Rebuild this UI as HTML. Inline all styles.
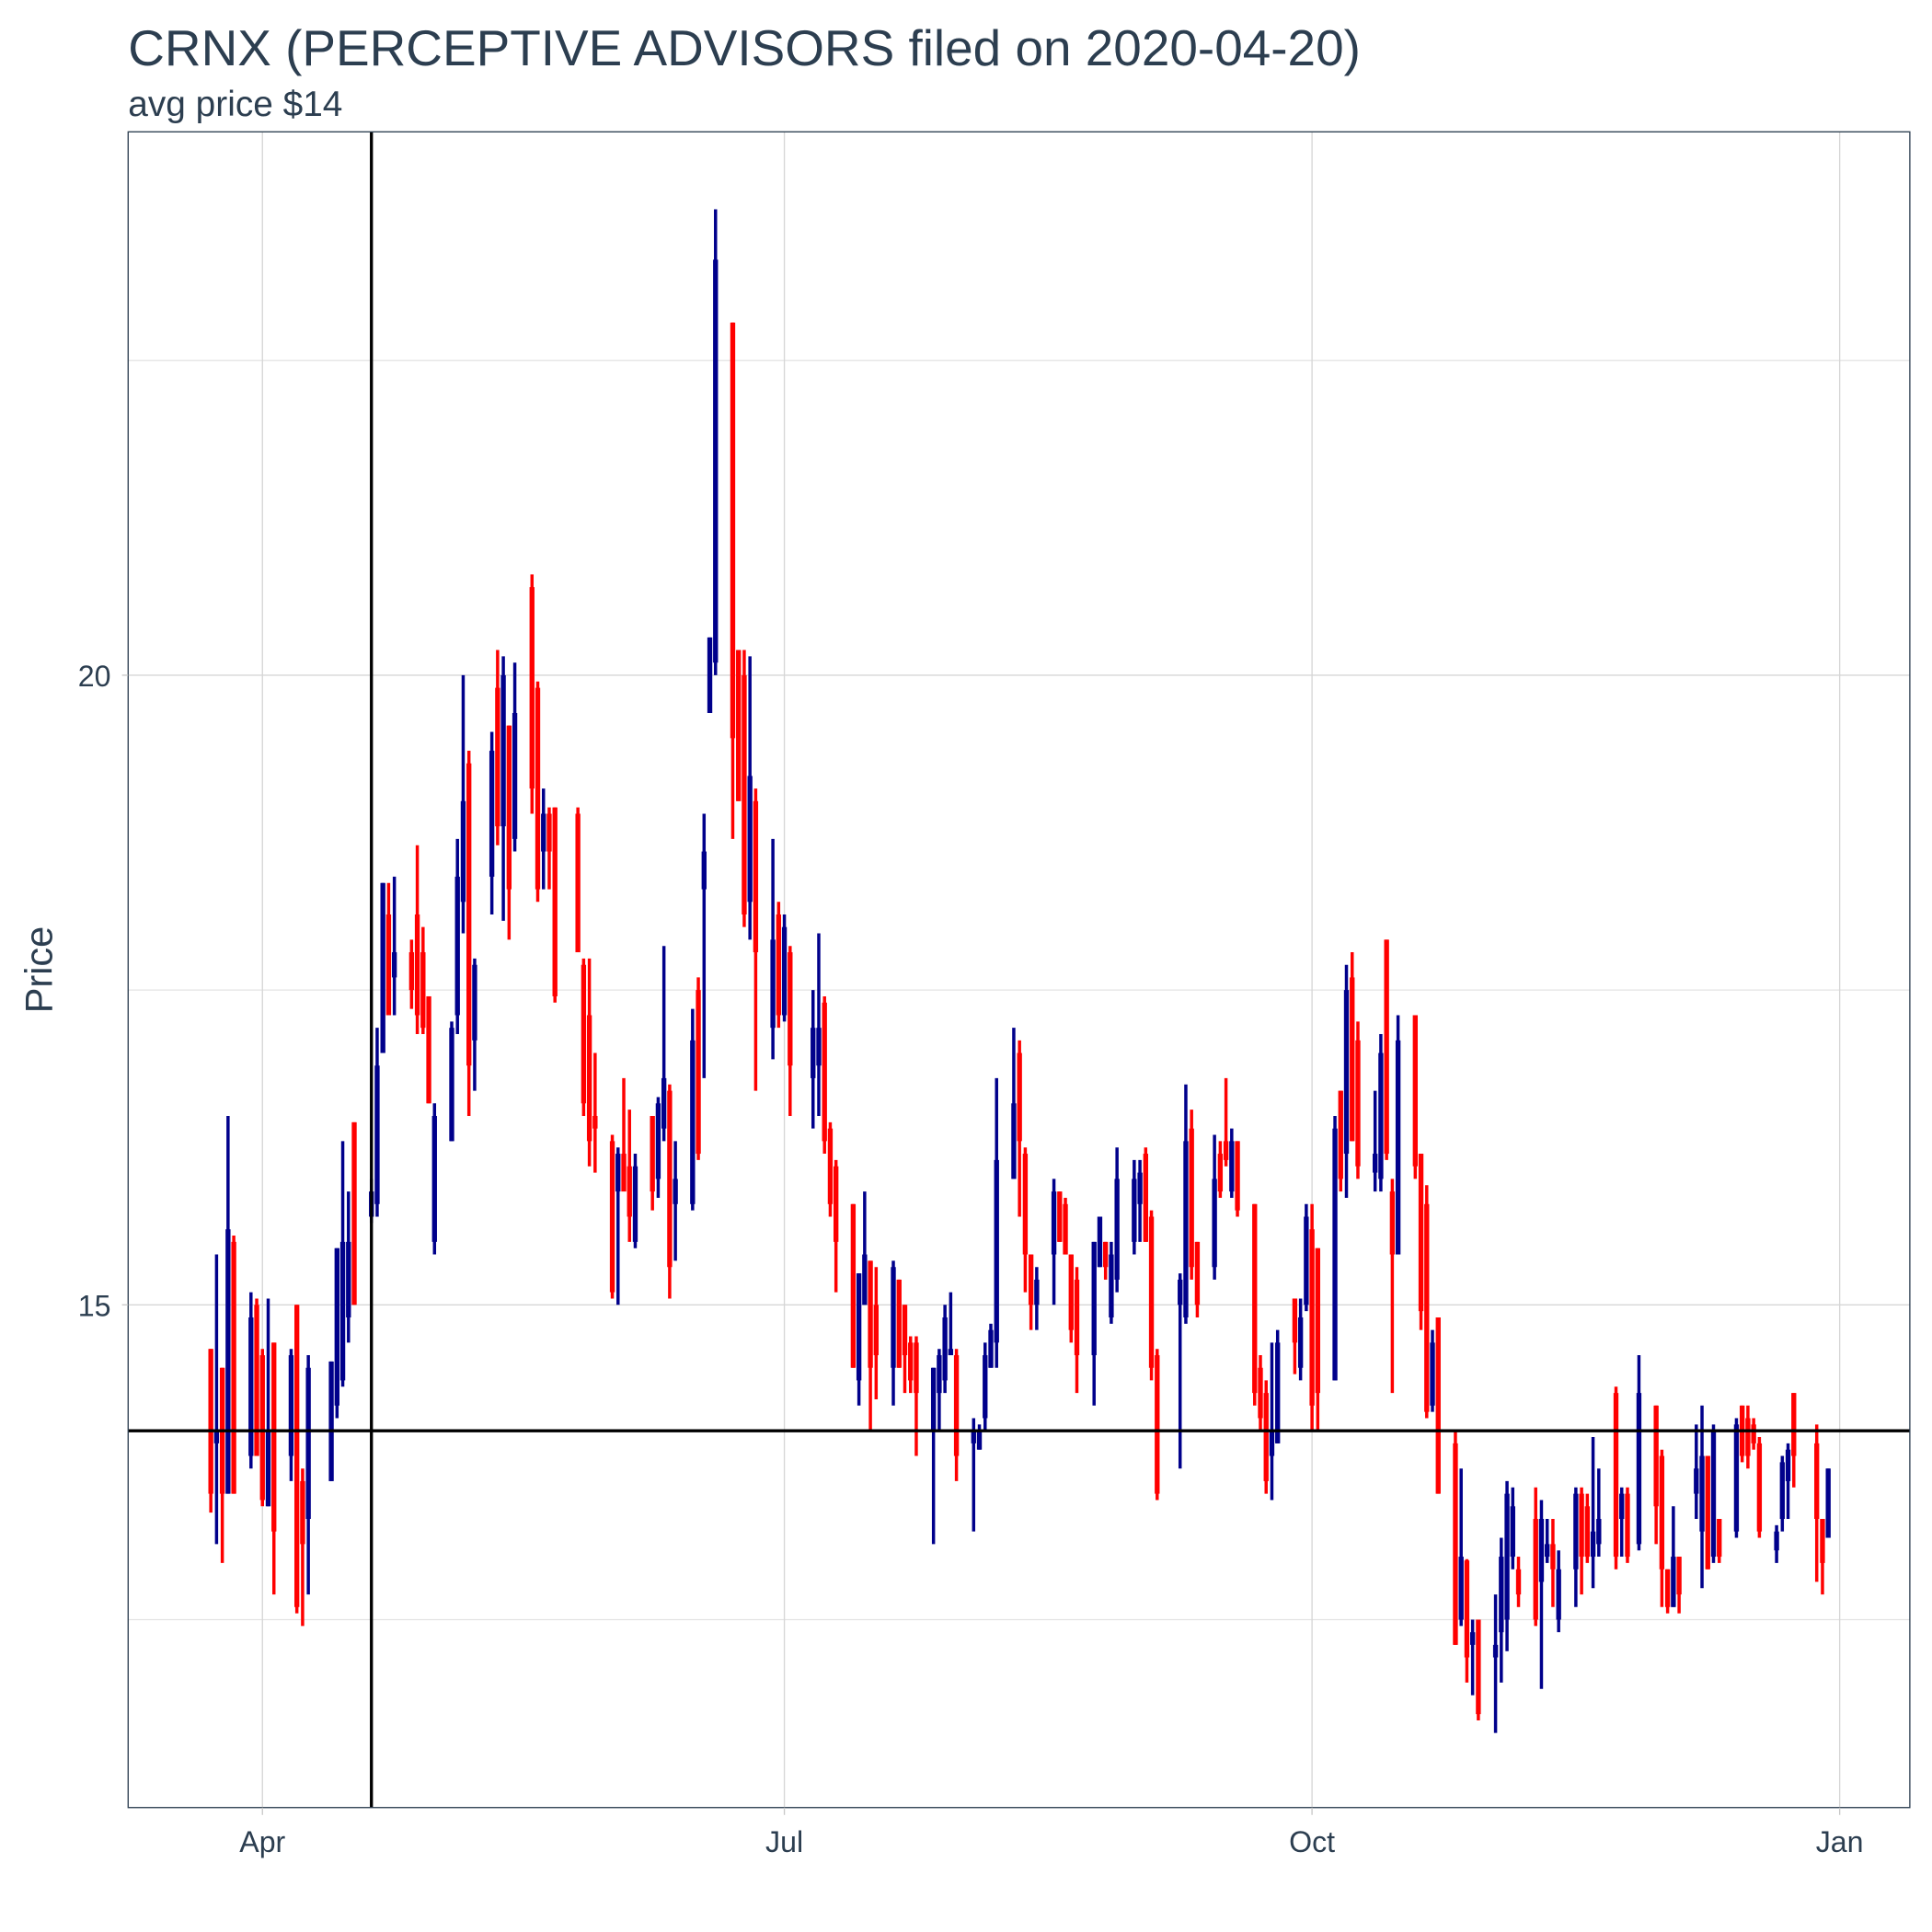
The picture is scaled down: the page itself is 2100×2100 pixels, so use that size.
<!DOCTYPE html>
<html><head><meta charset="utf-8"><style>
html,body{margin:0;padding:0;background:#fff;}
svg{display:block;}
text{font-family:"Liberation Sans",sans-serif;}
</style></head><body>
<svg id="chart" width="2100" height="2100" viewBox="0 0 1568 1568" xmlns="http://www.w3.org/2000/svg">
<rect x="0" y="0" width="1568" height="1568" fill="#fff"/>
<text x="104" y="53" font-size="41" fill="#2c3e50">CRNX (PERCEPTIVE ADVISORS filed on 2020-04-20)</text>
<text x="104" y="94" font-size="29" fill="#2c3e50">avg price $14</text>
<text transform="translate(42,787) rotate(-90)" text-anchor="middle" font-size="31" fill="#2c3e50">Price</text>
<g id="grid"></g>
<g id="marks"></g>
<g id="refs"></g>
<rect x="104" y="107" width="1446" height="1360" fill="none" stroke="#2c3e50" stroke-width="1"/>
<g id="axes"></g>
</svg>
<script>
// days since 2020-04-01
const days = [-9,-8,-7,-6,-5,-2,-1,0,1,2,5,6,7,8,12,13,14,15,16,19,20,21,22,23,26,27,28,29,30,33,34,35,36,37,40,41,42,43,44,47,48,49,50,51,55,56,57,58,61,62,63,64,65,68,69,70,71,72,75,76,77,78,79,82,83,84,85,86,89,90,91,92,96,97,98,99,100,103,104,105,106,107,110,111,112,113,114,117,118,119,120,121,124,125,126,127,128,131,132,133,134,135,138,139,140,141,142,145,146,147,148,149,152,153,154,155,156,160,161,162,163,166,167,168,169,170,173,174,175,176,177,180,181,182,183,184,187,188,189,190,191,194,195,196,197,198,201,202,203,204,205,208,209,210,211,212,215,216,217,218,219,222,223,224,225,226,229,230,231,232,233,236,237,238,240,243,244,245,246,247,250,251,252,253,254,257,258,259,260,261,264,265,266,267,271,272,273];
const openP = [14.65,13.9,14.5,13.5,15.5,13.8,15.0,14.6,13.4,14.7,13.8,15.0,13.6,13.3,13.6,14.2,14.4,14.9,16.45,15.7,15.8,17.0,18.1,17.6,17.8,18.1,17.8,17.45,15.5,16.3,17.3,18.2,19.3,17.1,18.4,19.9,18.8,19.6,18.7,20.7,19.9,18.6,18.9,18.95,18.9,17.7,17.3,16.5,16.3,15.9,16.2,16.1,15.5,16.5,16.0,16.4,16.7,15.8,15.8,17.5,18.3,19.7,20.1,22.8,20.2,20.0,18.2,19.0,17.2,18.1,17.3,17.8,16.8,16.9,17.4,16.4,16.1,15.8,14.4,15.0,15.35,15.0,14.5,15.2,15.0,14.7,14.7,14.0,14.3,14.4,14.6,14.6,13.9,13.85,14.1,14.5,14.7,16.0,17.0,16.2,15.4,15.0,15.4,15.9,15.8,15.4,15.2,14.6,15.3,15.5,14.9,15.2,15.5,15.8,16.2,15.7,14.6,15.0,14.9,16.4,15.5,15.3,16.2,16.3,15.9,16.3,15.8,14.5,14.3,13.8,13.9,15.05,14.5,15.0,15.6,15.45,14.4,16.7,16.2,17.6,17.1,16.05,16.0,17.9,15.9,15.4,17.3,16.2,15.8,14.2,14.9,13.9,12.5,12.97,12.3,12.5,12.2,12.4,12.5,13.0,12.9,13.3,12.8,13.0,13.1,12.5,12.9,13.5,13.4,13.0,13.1,14.3,13.3,13.5,13.1,14.2,13.8,12.9,12.6,13.0,13.5,13.2,13.8,13.0,13.3,13.2,14.2,14.1,14.05,13.9,13.05,13.3,13.6,14.3,13.9,13.3,13.15];
const highP = [14.65,15.4,14.5,16.5,15.55,15.1,15.05,14.65,15.05,14.7,14.65,15.0,13.7,14.6,14.55,15.45,16.3,15.9,16.45,16.0,17.2,18.35,18.35,18.4,17.9,18.65,18.0,17.45,16.6,17.25,18.7,20.0,19.4,17.75,19.55,20.2,20.15,19.6,20.1,20.8,19.95,19.1,18.95,18.95,18.95,17.75,17.75,17.0,16.35,16.25,16.8,16.55,16.2,16.5,16.65,17.85,16.75,16.3,17.35,17.6,18.9,20.3,23.7,22.8,20.2,20.2,20.15,19.1,18.7,18.2,18.1,17.85,17.5,17.95,17.45,16.45,16.15,15.8,15.25,15.9,15.35,15.3,15.35,15.2,15.0,14.75,14.75,14.5,14.65,15.0,15.1,14.65,14.1,14.05,14.7,14.85,16.8,17.2,17.1,16.25,15.4,15.3,16.0,15.9,15.85,15.4,15.3,15.5,15.7,15.5,15.5,16.25,16.15,16.15,16.25,15.75,14.65,15.25,16.75,16.55,15.5,16.35,16.3,16.8,16.4,16.3,15.8,14.6,14.4,14.7,14.8,15.05,15.05,15.8,15.8,15.45,16.5,16.7,17.7,17.8,17.25,16.7,17.15,17.9,16.0,17.3,17.3,16.2,15.95,14.8,14.9,14.0,13.7,12.98,12.5,12.5,12.7,13.15,13.6,13.55,13.0,13.55,13.45,13.3,13.3,13.05,13.55,13.55,13.5,13.95,13.7,14.35,13.55,13.55,14.6,14.2,13.85,12.9,13.4,13.0,14.05,14.2,13.8,14.05,13.3,14.1,14.2,14.2,14.1,13.95,13.25,13.8,13.9,14.3,14.05,13.3,13.7];
const lowP = [13.35,13.1,12.95,13.5,13.5,13.7,13.8,13.4,13.4,12.7,13.6,12.55,12.45,12.7,13.6,14.1,14.35,14.7,15.0,15.65,15.7,17.0,17.3,17.3,17.35,17.15,17.15,16.6,15.4,16.3,17.15,17.95,16.5,16.7,18.1,18.65,18.05,17.9,18.6,18.9,18.2,18.3,18.3,17.4,17.8,16.5,16.1,16.05,15.05,15.0,15.95,15.5,15.45,15.75,15.85,16.3,15.05,15.35,15.75,16.15,16.8,19.7,20.0,18.7,19.0,18.0,17.9,16.7,16.95,17.2,17.25,16.5,16.4,16.5,16.2,15.7,15.1,14.5,14.2,15.0,14.0,14.25,14.2,14.5,14.3,14.3,13.8,13.1,14.0,14.3,14.6,13.6,13.2,13.85,14.0,14.5,14.5,16.0,15.7,15.1,14.8,14.8,15.0,15.5,15.4,14.7,14.3,14.2,15.3,15.2,14.85,15.1,15.4,15.5,15.5,14.4,13.45,13.7,14.85,15.2,14.9,15.2,15.85,16.1,15.85,15.7,14.2,14.0,13.5,13.45,13.9,14.45,14.4,14.95,14.0,14.0,14.4,15.9,15.85,16.3,16.0,15.9,15.9,16.15,14.3,15.4,16.0,14.8,14.1,14.15,13.5,12.3,12.45,12.0,11.9,11.7,11.6,12.0,12.25,12.9,12.6,12.45,11.95,12.95,12.6,12.4,12.6,12.7,12.95,12.75,13.0,12.9,13.0,12.95,13.05,13.1,12.6,12.55,12.6,12.55,13.3,12.75,12.9,12.95,12.95,13.15,13.75,13.7,13.85,13.15,12.95,13.2,13.3,13.55,12.8,12.7,13.15];
const closeP = [13.5,14.0,13.5,15.6,13.5,14.9,13.8,13.45,14.0,13.2,14.6,12.6,13.1,14.5,14.55,15.45,15.5,15.5,15.0,15.9,16.9,18.35,17.3,17.8,17.5,17.3,17.2,16.6,16.5,17.2,18.4,19.0,16.9,17.7,19.4,18.8,20.0,18.3,19.7,19.1,18.3,18.9,18.6,17.45,17.8,16.6,16.3,16.4,15.1,16.2,15.9,15.7,16.1,15.9,16.6,16.8,15.3,16.0,17.1,16.2,18.6,20.3,23.3,19.5,19.0,18.1,19.2,17.8,17.9,17.3,18.0,16.9,17.2,17.2,16.3,15.8,15.5,14.5,15.25,15.4,14.5,14.6,15.3,14.5,14.6,14.4,14.3,14.5,14.6,14.9,14.65,13.8,14.0,14.0,14.6,14.8,16.15,16.6,16.3,15.4,15.0,15.2,15.9,15.5,15.4,14.8,14.6,15.5,15.7,15.3,15.4,16.0,16.0,16.05,15.5,14.5,13.5,15.2,16.3,15.3,15.0,16.0,15.9,16.15,16.3,15.75,14.3,14.1,13.6,14.0,14.7,14.7,14.9,15.7,14.2,14.3,16.4,16.0,17.5,16.3,16.1,16.2,17.0,16.2,15.4,17.1,16.1,14.95,14.15,14.7,13.5,12.3,13.0,12.2,12.4,11.75,12.3,13.0,13.5,13.4,12.7,12.5,13.3,13.1,12.9,12.9,13.5,13.0,13.0,13.2,13.3,13.0,13.5,13.0,14.3,13.4,12.9,12.6,13.0,12.7,13.7,13.8,12.9,14.0,13.0,14.05,13.8,13.8,13.9,13.2,13.2,13.75,13.85,13.8,13.3,12.95,13.7];
const yTicks = [15, 20];
const yMinor = [12.5, 17.5, 22.5];
const xTickDays = [0, 91, 183, 275];
const xTickLabels = ["Apr", "Jul", "Oct", "Jan"];
const avgPrice = 14;
const filedDay = 19;

const NS = "http://www.w3.org/2000/svg";
const X0 = 104, X1 = 1550, Y0 = 107, Y1 = 1467;
const xs = d => 213 + d * 4.6548;
const ys = p => 548 + (20 - p) * 102.2;
function mk(tag, attrs, parent) {
  const e = document.createElementNS(NS, tag);
  for (const k in attrs) e.setAttribute(k, attrs[k]);
  parent.appendChild(e);
  return e;
}
const grid = document.getElementById('grid');
const marks = document.getElementById('marks');
const refs = document.getElementById('refs');
const axes = document.getElementById('axes');
yMinor.forEach(v => {
  const l = mk('line', {x1: X0, x2: X1, y1: ys(v), y2: ys(v), stroke: '#e3e3e3', 'stroke-width': 1}, grid);
  
  
});
yTicks.forEach(v => {
  const l = mk('line', {x1: X0, x2: X1, y1: ys(v), y2: ys(v), stroke: '#d6d6d6', 'stroke-width': 1}, grid);
  
  
  const t = mk('line', {x1: X0 - 5, x2: X0, y1: ys(v), y2: ys(v), stroke: '#c8c8c8', 'stroke-width': 1}, axes);
  
  
  const tx = mk('text', {x: X0 - 14, y: ys(v) + 9, 'text-anchor': 'end', 'font-size': 24, fill: '#2c3e50'}, axes);
  tx.textContent = String(v);
  
  
});
xTickDays.forEach((d, i) => {
  const l = mk('line', {x1: xs(d), x2: xs(d), y1: Y0, y2: Y1, stroke: '#d6d6d6', 'stroke-width': 1}, grid);
  
  
  const t = mk('line', {x1: xs(d), x2: xs(d), y1: Y1, y2: Y1 + 6, stroke: '#c8c8c8', 'stroke-width': 1}, axes);
  
  
  const tx = mk('text', {x: xs(d), y: Y1 + 36, 'text-anchor': 'middle', 'font-size': 24, fill: '#2c3e50'}, axes);
  tx.textContent = xTickLabels[i];
  
  
});
days.forEach((d, i) => {
  const up = closeP[i] >= openP[i];
  const col = up ? '#00008b' : '#ff0000';
  const x = xs(d);
  const w = mk('line', {x1: x, x2: x, y1: ys(highP[i]), y2: ys(lowP[i]), stroke: col, 'stroke-width': 2.6}, marks);
  
  
  const b1 = ys(Math.max(openP[i], closeP[i])), b2 = ys(Math.min(openP[i], closeP[i]));
  const b = mk('rect', {x: x - 2, y: b1, width: 4, height: Math.max(1.5, b2 - b1), fill: col}, marks);
  
  
});
const h = mk('line', {x1: X0, x2: X1, y1: ys(avgPrice), y2: ys(avgPrice), stroke: '#000', 'stroke-width': 2.5}, refs);


const v = mk('line', {x1: xs(filedDay), x2: xs(filedDay), y1: Y0, y2: Y1, stroke: '#000', 'stroke-width': 2.5}, refs);


</script>
</body></html>
